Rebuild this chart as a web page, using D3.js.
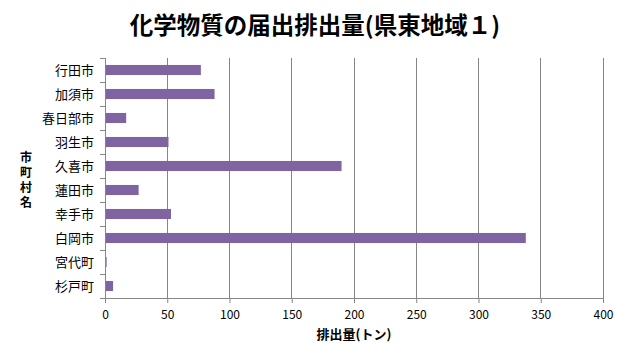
<!DOCTYPE html>
<html><head><meta charset="utf-8">
<script src="https://cdn.jsdelivr.net/npm/d3@7"></script>
<style>body{margin:0;background:#fff}svg{display:block}</style>
</head><body>
<script>
const categories = ["行田市","加須市","春日部市","羽生市","久喜市","蓮田市","幸手市","白岡市","宮代町","杉戸町"];
const values = [77, 88, 17, 51, 190, 27, 53, 338, 1.3, 6.5];
const xTicks = [0,50,100,150,200,250,300,350,400];
const title = "化学物質の届出排出量(県東地域１)";
const xTitle = "排出量(トン)";
const yTitle = "市町村名";

const W = 630, H = 361;
const m = {left:105, right:27, top:58, bottom:63};
const svg = d3.select("body").append("svg").attr("width", W).attr("height", H);
const font = "'Noto Sans CJK JP', 'Noto Sans', sans-serif";

const x = d3.scaleLinear().domain([0,400]).range([m.left, W - m.right]);
const y = d3.scaleBand().domain(categories).range([m.top, H - m.bottom]).paddingInner(0.58).paddingOuter(0.29);
const yb = d3.scaleBand().domain(categories).range([m.top, H - m.bottom]);

// gridlines
svg.append("g").selectAll("line").data(xTicks.slice(1)).join("line")
  .attr("x1", d => x(d)).attr("x2", d => x(d))
  .attr("y1", m.top).attr("y2", H - m.bottom)
  .attr("stroke", "#868686").attr("stroke-width", 1).attr("shape-rendering","crispEdges");

// bars
svg.append("g").selectAll("rect").data(categories).join("rect")
  .attr("x", x(0)).attr("y", d => y(d))
  .attr("width", (d,i) => x(values[i]) - x(0))
  .attr("height", y.bandwidth())
  .attr("fill", "#8064A2");

// x axis
const xa = svg.append("g").attr("transform", `translate(0,${H - m.bottom})`)
  .call(d3.axisBottom(x).tickValues(xTicks).tickSize(5).tickPadding(7));
xa.select(".domain").attr("stroke", "#868686");
xa.selectAll(".tick line").attr("stroke", "#868686");
xa.selectAll("text").attr("font-family", font).attr("font-size", 12).attr("fill", "#000");

// y axis
const ya = svg.append("g").attr("transform", `translate(${m.left},0)`);
ya.append("line").attr("x1",0).attr("x2",0).attr("y1",m.top).attr("y2",H-m.bottom).attr("stroke","#868686").attr("shape-rendering","crispEdges");
const edges = categories.map(c => yb(c)).concat([H - m.bottom]);
ya.selectAll("line.t").data(edges).join("line").attr("class","t")
  .attr("x1",-5).attr("x2",0).attr("y1",d=>d).attr("y2",d=>d)
  .attr("stroke","#868686").attr("shape-rendering","crispEdges");
ya.selectAll("text").data(categories).join("text")
  .attr("x", -11).attr("y", d => yb(d) + yb.bandwidth()/2)
  .attr("dy","0.35em").attr("text-anchor","end")
  .attr("font-family", font).attr("font-size", 13).attr("fill","#000")
  .text(d => d);

// title
svg.append("text").attr("x", 315).attr("y", 34).attr("text-anchor","middle")
  .attr("font-family", font).attr("font-weight","bold").attr("font-size", 23.5).attr("fill","#000")
  .text(title);

// x title
svg.append("text").attr("x", 354).attr("y", 339).attr("text-anchor","middle")
  .attr("font-family", font).attr("font-weight","bold").attr("font-size", 13).attr("fill","#000")
  .text(xTitle);

// y title (vertical, upright characters)
svg.append("text").attr("x", 26).attr("y", 151)
  .attr("font-family", font).attr("font-weight","bold").attr("font-size", 12).attr("fill","#000")
  .style("writing-mode","vertical-rl").style("text-orientation","upright")
  .attr("letter-spacing", 3)
  .text(yTitle);
</script>
</body></html>
